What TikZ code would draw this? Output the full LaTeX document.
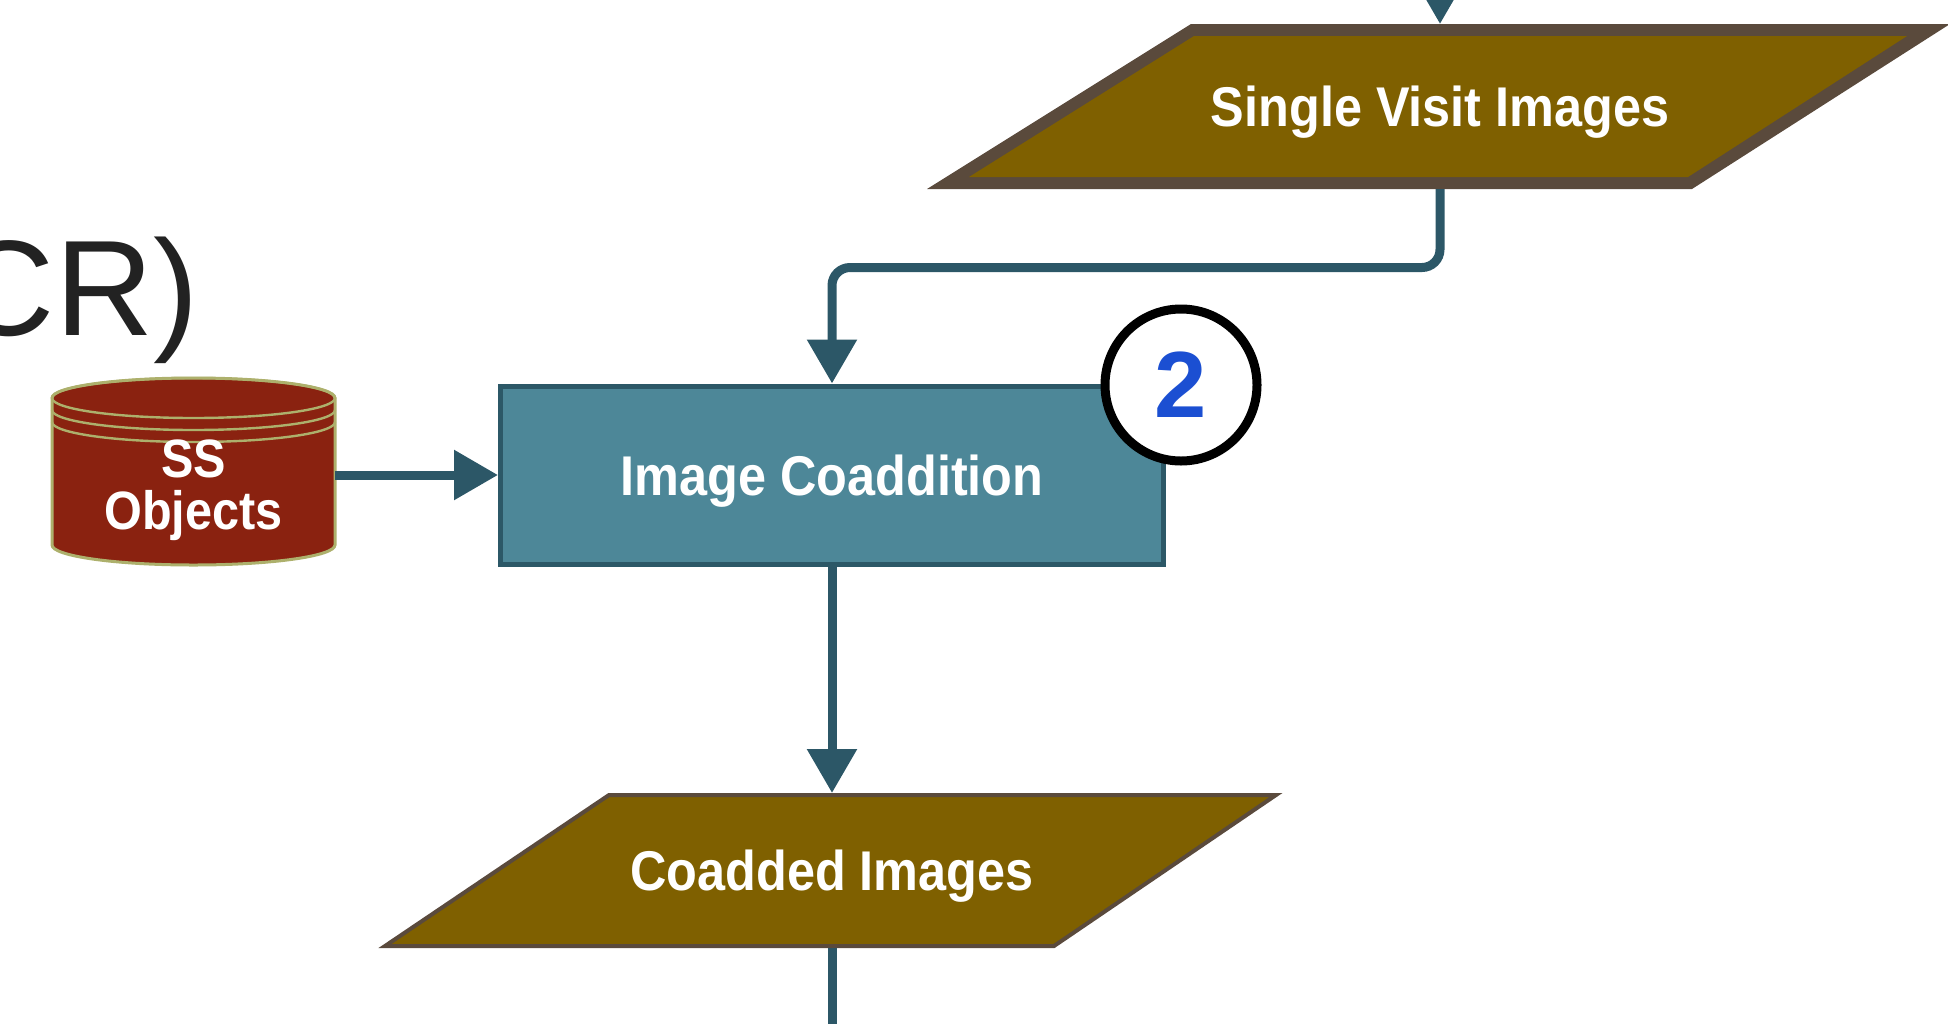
\documentclass[tikz,border=0pt]{standalone}
\usepackage{fontspec}
\setmainfont{Liberation Sans}
\newfontfamily\labelfont[FakeStretch=0.9]{Liberation Sans}
\usetikzlibrary{arrows.meta,calc}
\definecolor{procfill}{HTML}{4D8798}
\definecolor{procline}{HTML}{2C5867}
\definecolor{flowline}{HTML}{2C5767}
\definecolor{datafill}{HTML}{7F6000}
\definecolor{dataline}{HTML}{5A4A3C}
\definecolor{dbfill}{HTML}{8A2210}
\definecolor{dbline}{HTML}{ADB06C}
\definecolor{stepblue}{HTML}{1B4FD2}
\definecolor{titlegray}{HTML}{222222}

\begin{document}
\begin{tikzpicture}[x=0.5pt,y=-0.5pt,
  flowbase/.style={draw=flowline, line width=4.5pt},
  flow/.style={flowbase, -{Triangle[length=22pt,width=24pt]}},
  lbl/.style={font=\labelfont\fontsize{28}{32}\selectfont\bfseries, text=white,
              text height=20pt, text depth=0pt},
  process/.style={lbl, draw=procline, fill=procfill, line width=2.5pt,
                  minimum width=331.5pt, minimum height=89pt, inner sep=0pt},
  holder/.style={inner sep=0pt, outer sep=0pt, minimum width=200pt},
  stepmark/.style={circle, draw=black, fill=white, line width=4.5pt,
                   minimum size=76pt, inner sep=0pt, text=stepblue,
                   font=\fontsize{47}{50}\selectfont\bfseries},
]
\useasboundingbox (0,0) rectangle (1948,1023);
\clip (0,0) rectangle (1948,1023);

% heading fragment
\node[font=\fontsize{68}{80}\selectfont, text=titlegray, anchor=base east,
      inner sep=0pt] (heading) at (199,335) {CR)};

% data product shapes (parallelograms)
\fill[dataline] (1191,24) -- (1950,24) -- (1692,189) -- (927,189) -- cycle;
\fill[datafill] (1194,36) -- (1907,36) -- (1688,177) -- (969,177) -- cycle;
\filldraw[fill=datafill, draw=dataline, line width=2pt]
  (609,795) -- (1276,795) -- (1054,946) -- (385,946) -- cycle;

% database cylinder
\filldraw[fill=dbfill, draw=dbline, line width=1.5pt]
  (52,398) -- (52,545) arc[start angle=180, end angle=0, x radius=141.5, y radius=20]
  -- (335,398) arc[start angle=0, end angle=-180, x radius=141.5, y radius=20] -- cycle;
\draw[dbline, line width=1.2pt] (193.5,398) ellipse[x radius=141.5, y radius=20];
\draw[dbline, line width=1.2pt]
  (52,410) arc[start angle=180, end angle=0, x radius=141.5, y radius=20];
\draw[dbline, line width=1.2pt]
  (52,422) arc[start angle=180, end angle=0, x radius=141.5, y radius=20];

% nodes
\node[holder, lbl, minimum height=82.5pt] (svi) at (1440,106.5) {Single Visit Images};
\node[process] (coadd) at (832,475) {Image Coaddition};
\node[holder, lbl, minimum height=77.5pt] (coadded) at (832,870.5) {Coadded Images};
\node[inner sep=0pt, outer sep=0pt, minimum width=141.5pt, minimum height=93.5pt]
  (ss) at (193.5,475) {};
\node[font=\labelfont\fontsize{27}{26}\selectfont\bfseries, text=white, align=center,
      inner sep=0pt] (sslabel) at (193.5,490) {SS\\Objects};
\node[stepmark] (step2) at (1181,385) {2};

% connectors
\coordinate (feed) at ($(svi.north)+(0,-80)$);
\coordinate (joint) at ($(coadd.north)+(0,-116)$);
\coordinate (sink) at ($(coadded.south)+(0,120)$);
\draw[flow] (feed) -- (svi.north);
\draw[flow, rounded corners=9pt] (svi.south) |- (joint) -- (coadd.north);
\draw[flow] (ss.east) -- (coadd.west);
\draw[flow] (coadd.south) -- (coadded.north);
\draw[flowbase] (coadded.south) -- (sink);
\end{tikzpicture}
\end{document}
